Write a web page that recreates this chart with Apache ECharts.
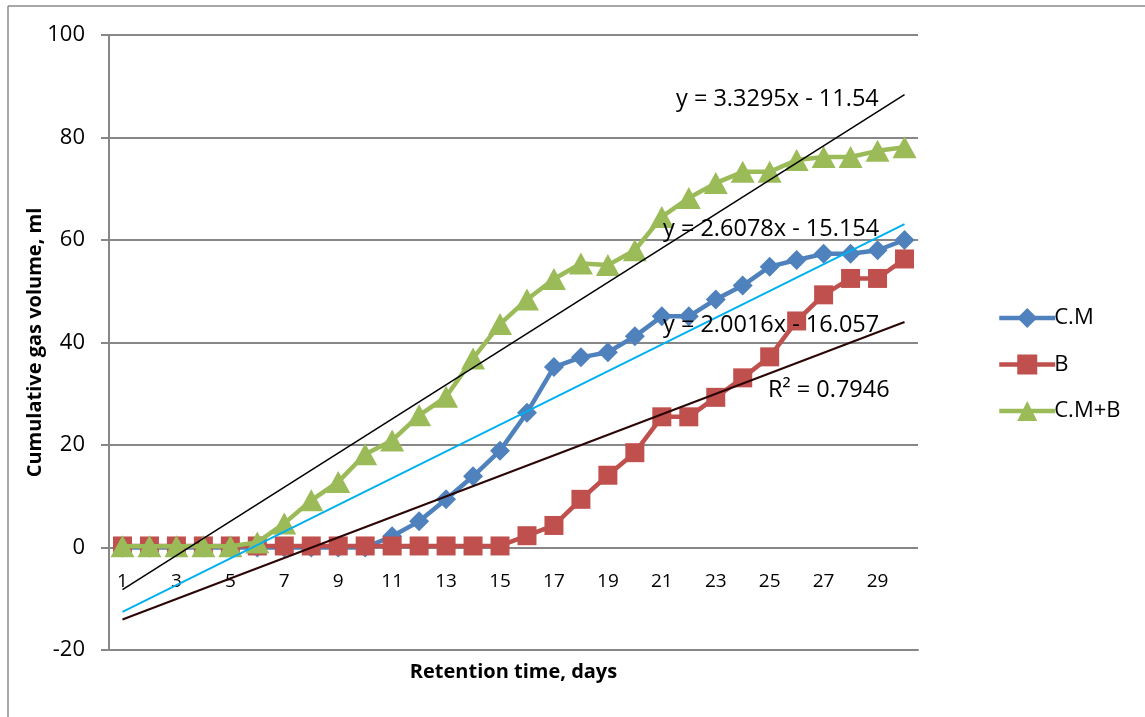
<!DOCTYPE html>
<html><head><meta charset="utf-8">
<script src="https://cdn.jsdelivr.net/npm/echarts@6/dist/echarts.min.js"></script>
<style>html,body{margin:0;padding:0;background:#fff}#c{width:1145px;height:717px}</style>
</head><body><div id="c"></div>
<script>
const days = ['1','2','3','4','5','6','7','8','9','10','11','12','13','14','15','16','17','18','19','20','21','22','23','24','25','26','27','28','29','30'];
const seriesNames = ['C.M', 'B', 'C.M+B'];
const cmValues = [0,0,0,0,0,0,0,0,0,0,2.2,5.1,9.4,13.9,18.9,26.3,35.2,37.1,38.1,41.2,45.1,45.1,48.4,51.1,54.8,56.1,57.3,57.3,58,60];
const bValues = [0.3,0.3,0.3,0.3,0.3,0.3,0.3,0.3,0.3,0.3,0.3,0.3,0.3,0.3,0.3,2.3,4.3,9.4,14.1,18.5,25.5,25.5,29.3,33.1,37.2,44.2,49.3,52.5,52.5,56.3];
const cmbValues = [0.25,0.25,0.25,0.25,0.25,1.0,4.7,9.2,12.8,18.2,20.9,25.8,29.4,36.9,43.6,48.4,52.4,55.4,55.1,58,64.5,68.2,71.1,73.3,73.3,75.6,76.2,76.2,77.4,78.1];
const yMin = -20, yMax = 100, yStep = 20;
// linear trendlines (slope, intercept) for C.M, B, C.M+B
const trendSlopes = [2.6078, 2.0016, 3.3295];
const trendIntercepts = [-15.154, -16.057, -11.54];
const trendTexts = ['y = 2.6078x - 15.154', 'y = 2.0016x - 16.057', 'y = 3.3295x - 11.54', 'R² = 0.7946'];

const FONT = "'Open Sans', 'Liberation Sans', sans-serif";
const colors = ['#4F81BD', '#C0504D', '#9BBB59'];
const trendColors = ['#00B0F0', '#2b0606', '#000000'];
const trendWidths = [2, 2, 1.5];
const symbols = ['diamond', 'rect', 'triangle'];
const symbolSizes = [20, 19, [24, 22]];
const values = [cmValues, bValues, cmbValues];

const chart = echarts.init(document.getElementById('c'));
const series = [];
values.forEach((v, k) => {
  series.push({
    name: seriesNames[k], type: 'line', data: v, z: 2 + k,
    symbol: symbols[k], symbolSize: symbolSizes[k], showAllSymbol: true,
    lineStyle: { color: colors[k], width: 4.5 },
    itemStyle: { color: colors[k] },
    emphasis: { disabled: true }
  });
});
trendSlopes.forEach((s, k) => {
  const x0 = Number(days[0]), x1 = Number(days[days.length - 1]);
  series.push({
    name: 'trend' + k, type: 'line', z: 10,
    data: [[0, s * x0 + trendIntercepts[k]], [days.length - 1, s * x1 + trendIntercepts[k]]],
    symbol: 'none', lineStyle: { color: trendColors[k], width: trendWidths[k] },
    emphasis: { disabled: true }, silent: true
  });
});

const textStyle = (t, x, y) => ({
  type: 'text', z: 100,
  style: { text: t, x: x, y: y, font: '23.5px ' + FONT, fill: '#000', verticalAlign: 'middle' }
});

chart.setOption({
  animation: false,
  backgroundColor: '#fff',
  grid: { left: 109, top: 35, right: 227, bottom: 67, containLabel: false, outerBoundsMode: 'none' },
  xAxis: {
    type: 'category', data: days, boundaryGap: true,
    axisLine: { onZero: false, lineStyle: { color: '#878787', width: 2 } },
    axisTick: { show: false },
    axisLabel: { interval: 1, fontSize: 19, fontFamily: FONT, color: '#000', margin: -78 },
    name: 'Retention time, days', nameLocation: 'middle', nameGap: 12, nameMoveOverlap: false,
    nameTextStyle: { fontSize: 20, fontWeight: 'bold', fontFamily: FONT, color: '#000' },
    splitLine: { show: false }
  },
  yAxis: {
    type: 'value', min: yMin, max: yMax, interval: yStep,
    axisLine: { show: true, lineStyle: { color: '#878787', width: 2 } },
    axisTick: { show: true, inside: false, length: 8, lineStyle: { color: '#878787', width: 2 } },
    axisLabel: { fontSize: 22, fontFamily: FONT, color: '#000', margin: 24 },
    splitLine: { show: true, lineStyle: { color: '#878787', width: 2 } },
    name: 'Cumulative gas volume, ml', nameLocation: 'middle', nameRotate: 90, nameGap: 64, nameMoveOverlap: false,
    nameTextStyle: { fontSize: 20, fontWeight: 'bold', fontFamily: FONT, color: '#000' }
  },
  legend: {
    data: seriesNames, orient: 'vertical', left: 992, top: 302,
    itemWidth: 56, itemHeight: 25, itemGap: 24.5,
    lineStyle: { width: 4.5 },
    textStyle: { fontSize: 22, fontFamily: FONT, color: '#000', padding: [0, 0, 0, -6] },
    selectedMode: false
  },
  graphic: [
    { type: 'line', z: 100, shape: { x1: 8, y1: 6, x2: 8, y2: 717 }, style: { stroke: '#8a8a8a', lineWidth: 1.5 } },
    { type: 'line', z: 100, shape: { x1: 8, y1: 6, x2: 1145, y2: 6 }, style: { stroke: '#8a8a8a', lineWidth: 1.5 } },
    textStyle(trendTexts[2], 676, 99),
    textStyle(trendTexts[0], 663, 229),
    textStyle(trendTexts[1], 663, 325),
    textStyle(trendTexts[3], 768, 390)
  ],
  series: series
});
</script></body></html>
